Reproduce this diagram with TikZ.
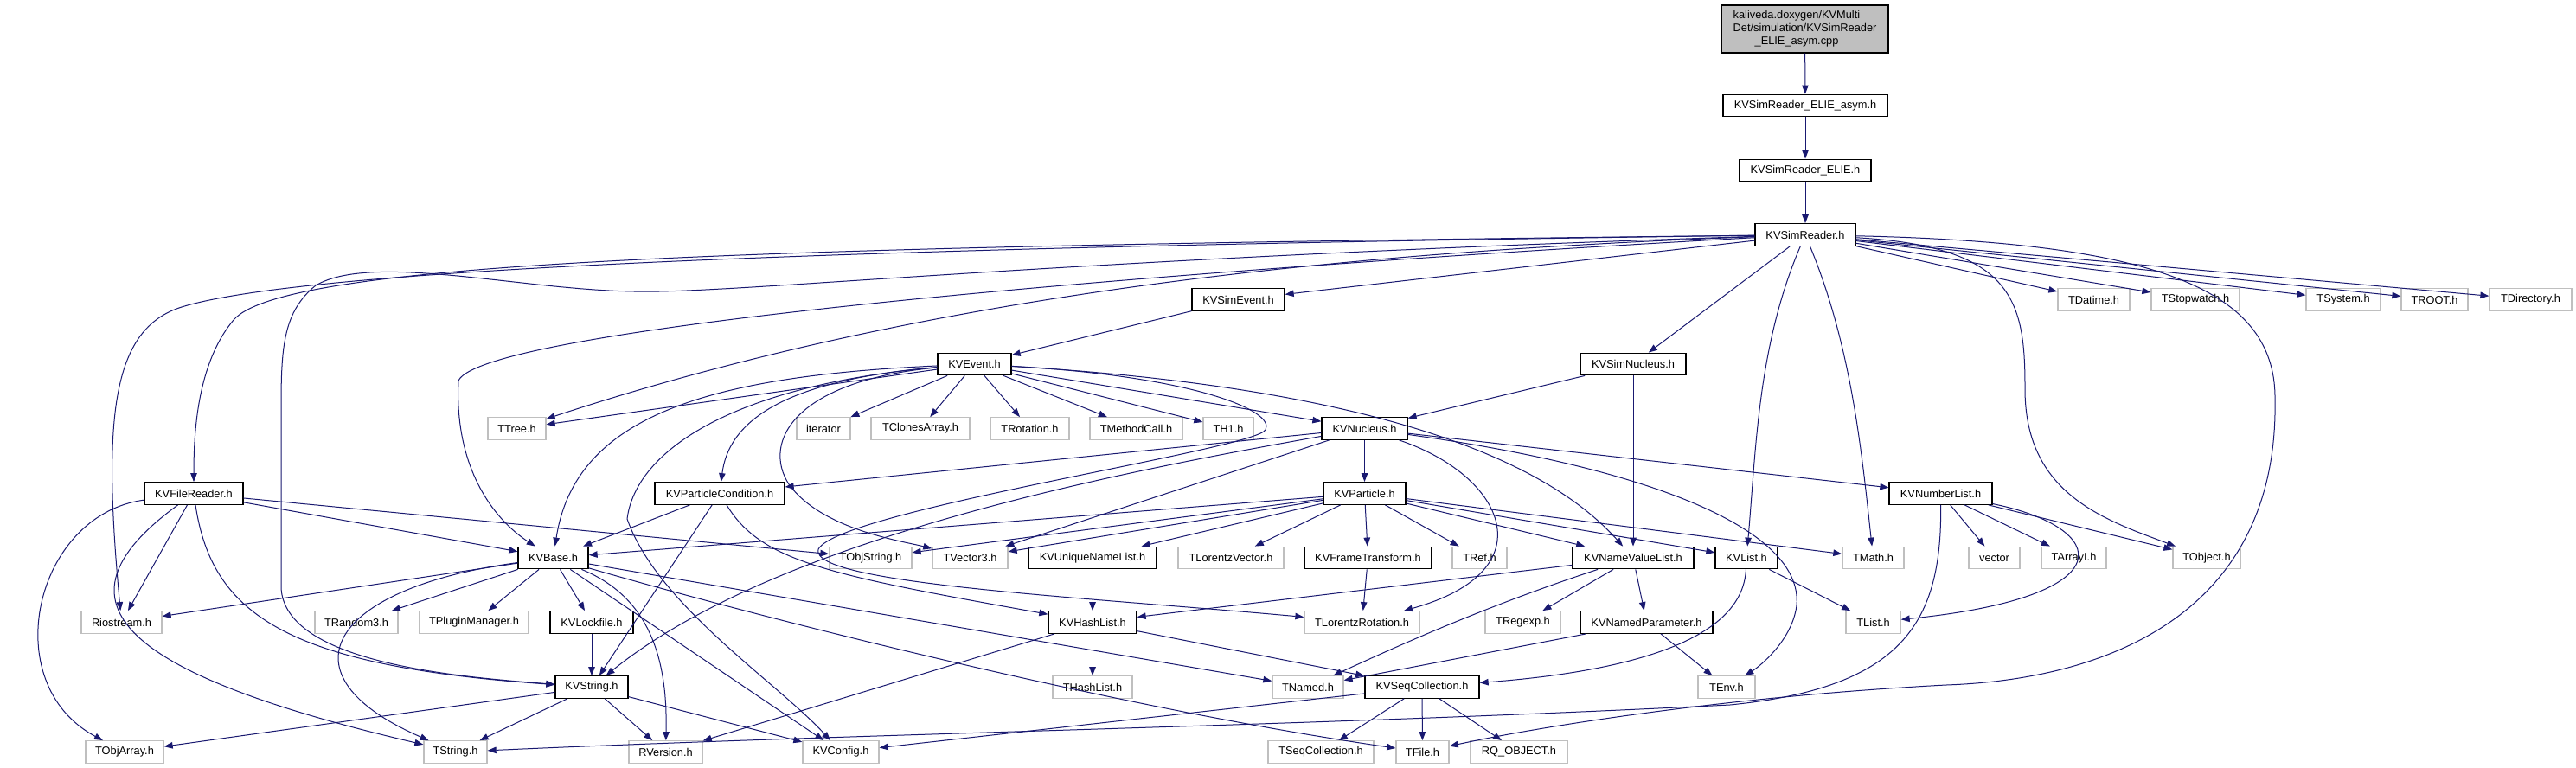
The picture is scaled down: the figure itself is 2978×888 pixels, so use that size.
\documentclass[tikz,border=0pt]{standalone}
\usepackage{fontspec}
\setmainfont{Liberation Sans}
\usetikzlibrary{arrows.meta}
\definecolor{edgeblue}{HTML}{191970}
\definecolor{sysgray}{HTML}{BFBFBF}

\begin{document}
\begin{tikzpicture}[x=1pt, y=-1pt,
  every node/.style={font=\fontsize{12.8}{15}\selectfont, inner sep=0pt, minimum height=25.5pt},
  kvbox/.style={draw=black, line width=1.3pt, fill=white},
  sysbox/.style={draw=sysgray, line width=1.3pt, fill=white},
  dep/.style={draw=edgeblue, line width=1pt, -{Triangle[length=10pt,width=7.5pt]}}]
  \fill[white] (0,0) rectangle (2978,888);
  \useasboundingbox (0,0) rectangle (2978,888);
  \node[kvbox, fill=sysgray, minimum width=193pt, minimum height=55pt, align=left] (cpp) at (2086.5,33.5)
    {kaliveda.doxygen/KVMulti\\Det/simulation/KVSimReader\\\hspace*{25pt}\_ELIE\_asym.cpp};
  \node[kvbox, minimum width=190pt] (asym) at (2087,122) {KVSimReader\_ELIE\_asym.h};
  \node[kvbox, minimum width=152pt] (elie) at (2087,197) {KVSimReader\_ELIE.h};
  \node[kvbox, minimum width=116pt] (sr) at (2087,271.5) {KVSimReader.h};
  \foreach \nm/\xc/\yc/\bw/\txt in {kvsimevent/1431.5/346.5/107/KVSimEvent.h, kvevent/1126.5/421/85/KVEvent.h,
    kvsimnucleus/1888/421/122/KVSimNucleus.h, kvnucleus/1577.5/495.5/99/KVNucleus.h,
    kvfilereader/224/570.5/114/KVFileReader.h, kvparticlecondition/832/570.5/150/KVParticleCondition.h,
    kvparticle/1577.5/570.5/95/KVParticle.h, kvnumberlist/2243.5/570.5/119/KVNumberList.h,
    kvbase/639.5/645/81/KVBase.h, kvuniquenamelist/1263/645/148/KVUniqueNameList.h,
    kvframetransform/1581.5/645/147/KVFrameTransform.h, kvnamevaluelist/1888/645/140/KVNameValueList.h,
    kvlist/2019/645/72/KVList.h, kvlockfile/684/719.5/96/KVLockfile.h, kvhashlist/1263/719.5/102/KVHashList.h,
    kvnamedparameter/1903.5/719.5/153/KVNamedParameter.h, kvstring/684/794.5/84/KVString.h,
    kvseqcollection/1644/794.5/132/KVSeqCollection.h}{
    \node[kvbox, minimum width=\bw pt] (\nm) at (\xc,\yc) {\txt};
  }
  \foreach \nm/\xc/\yc/\bw/\txt in {tdatime/2420.5/346.5/83/TDatime.h, tstopwatch/2538/346.5/102/TStopwatch.h,
    tsystem/2709/346.5/86/TSystem.h, troot/2814.5/346.5/77/TROOT.h, tdirectory/2925.5/346.5/95/TDirectory.h,
    ttree/597.5/495.5/67/TTree.h, iterator/952/495.5/62/iterator, tclonesarray/1064/495.5/114/TClonesArray.h,
    trotation/1190.5/495.5/91/TRotation.h, tmethodcall/1313.5/495.5/107/TMethodCall.h, th1/1420/495.5/58/TH1.h,
    tobjstring/1006.5/645/95/TObjString.h, tvector3/1121.5/645/87/TVector3.h,
    tlorentzvector/1423/645/122/TLorentzVector.h, tref/1710.5/645/63/TRef.h, tmath/2165.5/645/71/TMath.h,
    vector/2305.5/645/59/vector, tarrayi/2397.5/645/75/TArrayI.h, tobject/2551/645/78/TObject.h,
    riostream/140.5/719.5/93/Riostream.h, trandom3/412/719.5/96/TRandom3.h,
    tpluginmanager/548/719.5/126/TPluginManager.h, tlorentzrotation/1574.5/719.5/133/TLorentzRotation.h,
    tregexp/1760.5/719.5/87/TRegexp.h, tlist/2165.5/719.5/63/TList.h,
    thashlist/1263/794.5/92/THashList.h, tnamed/1512/794.5/82/TNamed.h, tenv/1996/794.5/66/TEnv.h,
    tobjarray/144/869.5/90/TObjArray.h, tstring/526.5/869.5/73/TString.h, rversion/769.5/869.5/85/RVersion.h,
    kvconfig/972/869.5/88/KVConfig.h, tseqcollection/1527/869.5/122/TSeqCollection.h,
    tfile/1644.5/869.5/61/TFile.h, rqobject/1756/869.5/112/RQ\_OBJECT.h}{
    \node[sysbox, minimum width=\bw pt] (\nm) at (\xc,\yc) {\txt};
  }
  \foreach \a/\b in {cpp/asym, asym/elie, elie/sr, sr/kvsimevent, sr/kvsimnucleus, sr/tdatime, sr/tstopwatch,
    sr/tsystem, sr/troot, sr/tdirectory, kvsimevent/kvevent, kvsimnucleus/kvnucleus, kvsimnucleus/kvnamevaluelist,
    kvevent/ttree, kvevent/iterator, kvevent/tclonesarray, kvevent/trotation, kvevent/tmethodcall, kvevent/th1,
    kvevent/kvnucleus, kvnucleus/kvparticle, kvnucleus/kvnumberlist, kvnucleus/kvparticlecondition,
    kvnucleus/tvector3, kvparticle/kvbase, kvparticle/tobjstring, kvparticle/tvector3, kvparticle/kvuniquenamelist,
    kvparticle/tlorentzvector, kvparticle/kvframetransform, kvparticle/tref, kvparticle/kvnamevaluelist,
    kvparticle/kvlist, kvparticle/tmath, kvparticlecondition/kvbase, kvparticlecondition/kvstring,
    kvfilereader/kvbase, kvfilereader/tobjstring, kvfilereader/riostream, kvbase/riostream, kvbase/trandom3,
    kvbase/tpluginmanager, kvbase/kvlockfile, kvbase/kvconfig, kvbase/tnamed, kvlockfile/kvstring,
    kvstring/tobjarray, kvstring/tstring, kvstring/rversion, kvstring/kvconfig, kvuniquenamelist/kvhashlist,
    kvframetransform/tlorentzrotation, kvhashlist/thashlist, kvhashlist/kvseqcollection, kvhashlist/rversion,
    kvnamevaluelist/kvhashlist, kvnamevaluelist/tregexp, kvnamevaluelist/kvnamedparameter,
    kvnamedparameter/tnamed, kvnamedparameter/tenv, kvlist/tlist, kvseqcollection/tseqcollection,
    kvseqcollection/tfile, kvseqcollection/rqobject, kvseqcollection/kvconfig, kvnumberlist/vector,
    kvnumberlist/tarrayi, kvnumberlist/tobject}{
    \draw[dep] (\a) -- (\b);
  }
  \draw[dep] (sr) .. controls (2032,400) and (2030,520) .. (kvlist);
  \draw[dep] (sr) .. controls (2140,400) and (2152,520) .. (tmath);
  \draw[dep] (sr) .. controls (2330,285) and (2341,350) .. (2341,450) .. controls (2341,570) and (2430,600) .. (tobject);
  \draw[dep] (sr) .. controls (2480,280) and (2630,330) .. (2630,460) .. controls (2635,700) and (2450,785) .. (2250,792)
    .. controls (2000,805) and (1780,840) .. (tfile);
  \draw[dep] (sr) .. controls (900,285) and (330,300) .. (270,370) .. controls (228,420) and (224,500) .. (kvfilereader);
  \draw[dep] (sr) .. controls (800,288) and (330,318) .. (210,355) .. controls (130,380) and (118,480) .. (riostream);
  \draw[dep] (sr) .. controls (1200,300) and (850,340) .. (733,337) .. controls (600,335) and (430,292) .. (365,330)
    .. controls (328,360) and (325,400) .. (325,470) -- (325,680) .. controls (330,765) and (520,782) .. (kvstring);
  \draw[dep] (sr) .. controls (1300,315) and (560,380) .. (530,440) .. controls (525,540) and (570,600) .. (kvbase);
  \draw[dep] (sr) .. controls (1600,290) and (1100,330) .. (ttree);
  \draw[dep] (kvevent) .. controls (820,435) and (665,480) .. (kvbase);
  \draw[dep] (kvevent) .. controls (900,440) and (842,490) .. (kvparticlecondition);
  \draw[dep] (kvevent) .. controls (850,445) and (735,520) .. (725,600) .. controls (760,700) and (900,790) .. (kvconfig);
  \draw[dep] (kvevent) .. controls (920,440) and (880,510) .. (912,560) .. controls (950,612) and (1040,625) .. (tvector3);
  \draw[dep] (kvevent) .. controls (1450,440) and (1750,490) .. (kvnamevaluelist);
  \draw[dep] (kvevent) .. controls (1380,435) and (1475,475) .. (1463,497) .. controls (1450,520) and (970,590) .. (946,635)
    .. controls (935,675) and (1250,690) .. (tlorentzrotation);
  \draw[dep] (kvnucleus) .. controls (1900,540) and (2085,610) .. (2077,700) .. controls (2072,740) and (2035,770) .. (tenv);
  \draw[dep] (kvnucleus) .. controls (1740,550) and (1790,660) .. (tlorentzrotation);
  \draw[dep] (kvnucleus) .. controls (1300,545) and (900,620) .. (kvstring);
  \draw[dep] (kvparticlecondition) .. controls (880,650) and (960,665) .. (kvhashlist);
  \draw[dep] (kvfilereader) .. controls (40,595) and (-5,790) .. (tobjarray);
  \draw[dep] (kvfilereader) .. controls (60,690) and (120,775) .. (tstring);
  \draw[dep] (kvfilereader) .. controls (245,710) and (330,770) .. (kvstring);
  \draw[dep] (kvbase) .. controls (380,680) and (320,780) .. (tstring);
  \draw[dep] (kvbase) .. controls (750,690) and (772,760) .. (rversion);
  \draw[dep] (kvbase) .. controls (900,720) and (1300,820) .. (tfile);
  \draw[dep] (kvnamevaluelist) .. controls (1720,700) and (1620,745) .. (tnamed);
  \draw[dep] (kvlist) .. controls (2015,735) and (1900,775) .. (kvseqcollection);
  \draw[dep] (kvnumberlist) .. controls (2440,610) and (2460,690) .. (tlist);
  \draw[dep] (kvnumberlist) .. controls (2245,720) and (2200,795) .. (2000,815) .. controls (1500,840) and (1000,848) .. (tstring);
\end{tikzpicture}
\end{document}
